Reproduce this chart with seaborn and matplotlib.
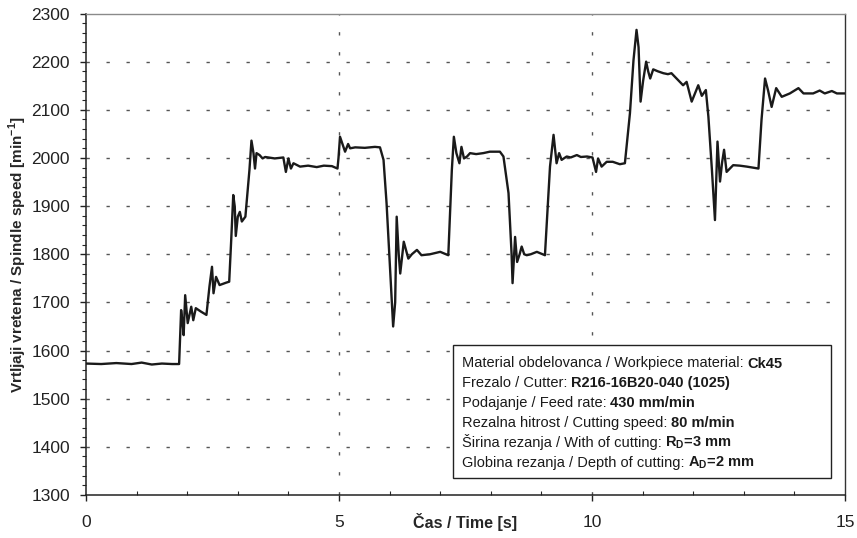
import matplotlib
matplotlib.use("Agg")
import matplotlib.pyplot as plt
import matplotlib.patches as mpatches
from matplotlib.ticker import MultipleLocator
import seaborn as sns
import pandas as pd

# Spindle speed trace (time in s, speed in min^-1)
time_s = [
    0.00, 0.30, 0.60, 0.90, 1.10, 1.30, 1.50, 1.70, 1.84,
    1.88, 1.91, 1.93, 1.96, 2.01, 2.08, 2.12, 2.17, 2.27, 2.38,
    2.44, 2.49, 2.52, 2.57, 2.64, 2.77, 2.83,
    2.87, 2.91, 2.94, 2.96, 3.00, 3.04, 3.08, 3.15,
    3.23, 3.27, 3.31, 3.34, 3.37, 3.43, 3.49, 3.54, 3.73, 3.90,
    3.95, 4.00, 4.05, 4.10, 4.23, 4.39, 4.56, 4.70, 4.86, 4.97,
    4.99, 5.02, 5.08, 5.12, 5.18, 5.22, 5.32, 5.51, 5.71, 5.81,
    5.88, 5.94, 6.01, 6.07, 6.11, 6.14, 6.18, 6.21, 6.28, 6.37,
    6.44, 6.54, 6.63, 6.80, 7.00, 7.16,
    7.23, 7.27, 7.32, 7.38, 7.42, 7.47, 7.53, 7.59, 7.71, 7.85,
    7.98, 8.18, 8.25, 8.35, 8.41, 8.43, 8.48, 8.52, 8.57, 8.61,
    8.66, 8.71, 8.79, 8.91, 9.07,
    9.17, 9.24, 9.30, 9.35, 9.40, 9.50, 9.58, 9.70, 9.78, 9.90,
    10.01, 10.08, 10.12, 10.19, 10.29, 10.41, 10.55, 10.65,
    10.75, 10.82, 10.88, 10.92, 10.96, 11.01, 11.07, 11.11, 11.15,
    11.21, 11.30, 11.41, 11.50, 11.57, 11.70, 11.80, 11.87, 11.97,
    12.04, 12.10, 12.17, 12.25, 12.30, 12.37, 12.43, 12.48, 12.53,
    12.57, 12.61, 12.66, 12.79, 12.92, 13.06, 13.29,
    13.35, 13.42, 13.48, 13.55, 13.64, 13.75, 13.91, 14.08, 14.18,
    14.37, 14.50, 14.60, 14.74, 14.84, 15.00,
]
spindle_rpm = [
    1573, 1572, 1574, 1572, 1575, 1571, 1573, 1572, 1572,
    1684, 1657, 1632, 1715, 1657, 1691, 1663, 1688, 1681, 1674,
    1733, 1774, 1719, 1753, 1736, 1741, 1743,
    1830, 1923, 1899, 1838, 1878, 1888, 1868, 1878,
    1975, 2036, 2010, 1978, 2010, 2006, 1999, 2002, 1999, 2001,
    1971, 1999, 1978, 1989, 1982, 1984, 1981, 1984, 1983, 1978,
    2000, 2044, 2025, 2013, 2029, 2020, 2022, 2021, 2023, 2022,
    1996, 1906, 1767, 1650, 1700, 1878, 1800, 1760, 1826, 1791,
    1800, 1809, 1798, 1800, 1805, 1798,
    1975, 2044, 2010, 1989, 2023, 1999, 2003, 2010, 2008, 2010,
    2013, 2013, 2003, 1927, 1802, 1740, 1836, 1784, 1800, 1816,
    1800, 1798, 1800, 1805, 1798,
    1982, 2048, 1989, 2010, 1996, 2003, 2001, 2006, 2002, 2003,
    2001, 1971, 1999, 1982, 1992, 1992, 1987, 1989,
    2093, 2203, 2266, 2230, 2117, 2160, 2200, 2180, 2165,
    2184, 2180, 2176, 2174, 2176, 2162, 2151, 2158, 2117,
    2135, 2151, 2129, 2141, 2086, 1975, 1871, 2034, 1951,
    1990, 2017, 1971, 1985, 1984, 1982, 1978,
    2079, 2165, 2140, 2106, 2145, 2127, 2134, 2145, 2134,
    2134, 2140, 2134, 2139, 2134, 2134,
]

x_ticks = [0, 5, 10, 15]
y_ticks = [1300, 1400, 1500, 1600, 1700, 1800, 1900, 2000, 2100, 2200, 2300]

# Cutting parameters shown in the info box: (plain part, bold part)
info_lines = [
    ("Material obdelovanca / Workpiece material: ", "Ck45"),
    ("Frezalo / Cutter: ", "R216-16B20-040 (1025)"),
    ("Podajanje / Feed rate: ", "430 mm/min"),
    ("Rezalna hitrost / Cutting speed: ", "80 m/min"),
    ("Širina rezanja / With of cutting: ", r"$\mathbf{R_D}$=3 mm"),
    ("Globina rezanja / Depth of cutting: ", r"$\mathbf{A_D}$=2 mm"),
]

sns.set_theme(style="white")
plt.rcParams["font.family"] = ["Liberation Sans", "DejaVu Sans"]
plt.rcParams["mathtext.fontset"] = "custom"
plt.rcParams["mathtext.rm"] = "Liberation Sans"
plt.rcParams["mathtext.bf"] = "Liberation Sans:bold"

W, H = 857, 538
fig = plt.figure(figsize=(W / 100, H / 100), dpi=100)
ax = fig.add_axes([86 / W, (H - 495) / H, 759 / W, 481.5 / H])

df = pd.DataFrame({"t": time_s, "n": spindle_rpm})
sns.lineplot(data=df, x="t", y="n", ax=ax, color="#1a1a1a", linewidth=1.7,
             estimator=None, sort=False, zorder=3)

ax.set_xlim(0, 15)
ax.set_ylim(1300, 2300)
ax.set_xticks(x_ticks)
ax.set_yticks(y_ticks)
ax.xaxis.set_minor_locator(MultipleLocator(1))
ax.yaxis.set_minor_locator(MultipleLocator(20))

# Dashed grid
grid_kw = dict(color="#555555", linewidth=1.0, dashes=(2.4, 12), zorder=1)
for yv in y_ticks[1:-1]:
    ax.axhline(yv, **grid_kw)
for xv in [5, 10]:
    ax.axvline(xv, **grid_kw)

ax.tick_params(axis="both", which="major", labelsize=12.5, colors="#222222",
               labelcolor="#222222")
ax.tick_params(axis="y", which="major", direction="out", length=4, width=1, pad=7.5, left=True)
ax.tick_params(axis="y", which="minor", direction="out", length=3, width=0.8, left=True)
ax.tick_params(axis="x", which="major", direction="out", length=4, width=1, pad=10.4, bottom=True)
ax.tick_params(axis="x", which="minor", direction="in", length=3, width=0.8, bottom=True)

for side in ["left", "bottom"]:
    ax.spines[side].set_color("#222222")
    ax.spines[side].set_linewidth(1.1)
ax.spines["right"].set_color("#333333")
ax.spines["right"].set_linewidth(1.0)
ax.spines["top"].set_color("#8a8a8a")
ax.spines["top"].set_linewidth(1.0)

ax.set_xlabel("Čas / Time [s]", fontsize=11.5, fontweight="bold", va="center")
ax.xaxis.set_label_coords(0.5, -(522 - 495) / 481.5)
ax.set_ylabel(r"Vrtljaji vretena / Spindle speed [min$^{\mathbf{-1}}$]",
              fontsize=11, fontweight="bold", va="center")
ax.yaxis.set_label_coords(-(86 - 18) / 759, 0.5)

# Info box
box_l, box_r, box_t, box_b = 452.7, 830.7, 345, 478
to_ax = lambda px, py: ((px - 86) / 759, (495 - py) / 481.5)
bl = to_ax(box_l, box_b)
tr = to_ax(box_r, box_t)
ax.add_patch(mpatches.Rectangle(bl, tr[0] - bl[0], tr[1] - bl[1], transform=ax.transAxes,
                                facecolor="white", edgecolor="#222222", linewidth=1.0,
                                zorder=4))

fig.canvas.draw()
renderer = fig.canvas.get_renderer()
text_x = 461.5
baseline0 = 367.5
step = 19.8
for i, (plain, bold) in enumerate(info_lines):
    px, py = to_ax(text_x, baseline0 + i * step)
    t1 = ax.text(px, py, plain, transform=ax.transAxes, fontsize=10.5, va="baseline",
                 ha="left", color="#1a1a1a", zorder=5)
    bb = t1.get_window_extent(renderer=renderer)
    x_end = ax.transAxes.inverted().transform((bb.x1, bb.y0))[0]
    ax.text(x_end, py, bold, transform=ax.transAxes, fontsize=10.5, fontweight="bold",
            va="baseline", ha="left", color="#1a1a1a", zorder=5)

fig.savefig("out.png", dpi=100, facecolor="white")
